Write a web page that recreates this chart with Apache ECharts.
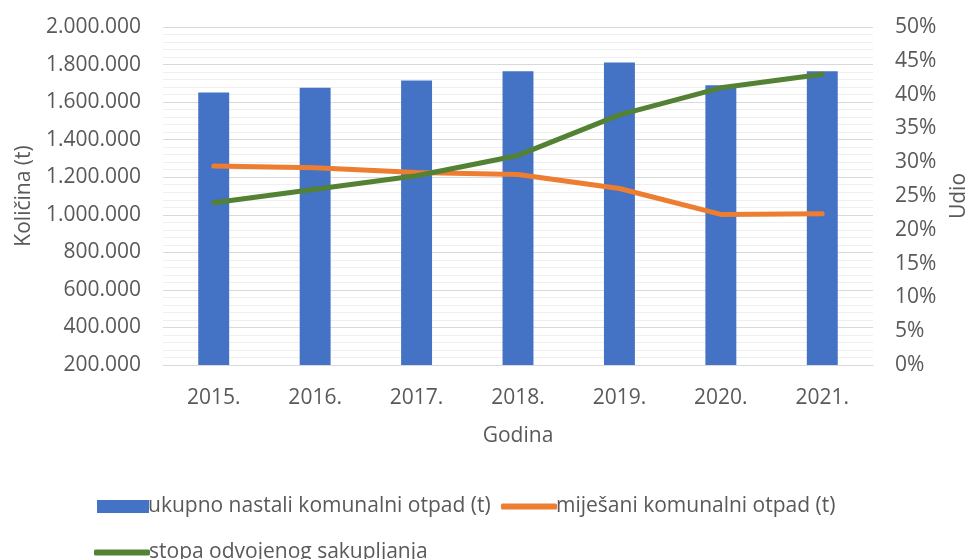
<!DOCTYPE html>
<html>
<head>
<meta charset="utf-8">
<script src="https://cdn.jsdelivr.net/npm/echarts@6/dist/echarts.min.js"></script>
<style>html,body{margin:0;padding:0;background:#fff}#c{width:969px;height:559px}</style>
</head>
<body>
<div id="c"></div>
<script>
const categories = ['2015.', '2016.', '2017.', '2018.', '2019.', '2020.', '2021.'];
const ukupno = [1651000, 1676000, 1715000, 1764000, 1811000, 1690000, 1764000];
const mijesani = [1260000, 1251000, 1225000, 1215000, 1140000, 1002000, 1005000];
const stopa = [24, 26, 28, 31, 37, 41, 43];
const seriesNames = ['ukupno nastali komunalni otpad (t)', 'miješani komunalni otpad (t)', 'stopa odvojenog sakupljanja'];

const FONT = 'Open Sans';
const TXT = '#595959';
const FS = 21;
function dots(v) { return String(v).replace(/\B(?=(\d{3})+(?!\d))/g, '.'); }
const legTxt = {fontFamily: FONT, fontSize: FS, color: TXT, padding: [0, 0, 0, -6]};

const chart = echarts.init(document.getElementById('c'), null, {renderer: 'canvas'});
chart.setOption({
  animation: false,
  textStyle: {fontFamily: FONT, color: TXT},
  grid: {left: 163, right: 96, top: 27, bottom: 194, containLabel: false, outerBoundsMode: 'none'},
  legend: [
    {data: [{name: seriesNames[0], icon: 'rect'}], left: 92, top: 491, itemWidth: 52, itemHeight: 13, textStyle: legTxt},
    {data: [{name: seriesNames[1], icon: 'roundRect'}], left: 496, top: 491, itemWidth: 56, itemHeight: 6, textStyle: legTxt},
    {data: [{name: seriesNames[2], icon: 'roundRect'}], left: 89, top: 537, itemWidth: 56, itemHeight: 6, textStyle: legTxt}
  ],
  xAxis: {
    type: 'category', data: categories,
    name: 'Godina', nameLocation: 'middle', nameGap: 61,
    nameTextStyle: {fontFamily: FONT, fontSize: FS, color: TXT},
    axisLine: {lineStyle: {color: '#d9d9d9', width: 1}},
    axisTick: {show: false},
    axisLabel: {fontFamily: FONT, fontSize: FS, color: TXT, margin: 23}
  },
  yAxis: [
    {type: 'value', min: 200000, max: 2000000, interval: 200000,
     name: 'Količina (t)', nameLocation: 'middle', nameGap: 123,
     nameTextStyle: {fontFamily: FONT, fontSize: FS, color: TXT},
     axisLine: {show: false}, axisTick: {show: false},
     axisLabel: {fontFamily: FONT, fontSize: FS, color: TXT, margin: 22, formatter: v => dots(v)},
     splitLine: {lineStyle: {color: '#d9d9d9', width: 1}},
     minorTick: {show: false, splitNumber: 5},
     minorSplitLine: {show: true, lineStyle: {color: '#efefef', width: 1}}
    },
    {type: 'value', min: 0, max: 50, interval: 5,
     name: 'Udio', nameLocation: 'middle', nameGap: 76, nameRotate: 90,
     nameTextStyle: {fontFamily: FONT, fontSize: FS, color: TXT},
     axisLine: {show: false}, axisTick: {show: false},
     axisLabel: {fontFamily: FONT, fontSize: FS, color: TXT, margin: 22, formatter: '{value}%'},
     splitLine: {show: false}
    }
  ],
  series: [
    {name: seriesNames[0], type: 'bar', data: ukupno, yAxisIndex: 0, barWidth: '30.5%',
     itemStyle: {color: '#4472C4'}},
    {name: seriesNames[1], type: 'line', data: mijesani, yAxisIndex: 0, symbol: 'none',
     lineStyle: {color: '#ED7D31', width: 5, cap: 'round', join: 'round'}, itemStyle: {color: '#ED7D31'}},
    {name: seriesNames[2], type: 'line', data: stopa, yAxisIndex: 1, symbol: 'none',
     lineStyle: {color: '#548235', width: 5, cap: 'round', join: 'round'}, itemStyle: {color: '#548235'}}
  ]
});
</script>
</body>
</html>
